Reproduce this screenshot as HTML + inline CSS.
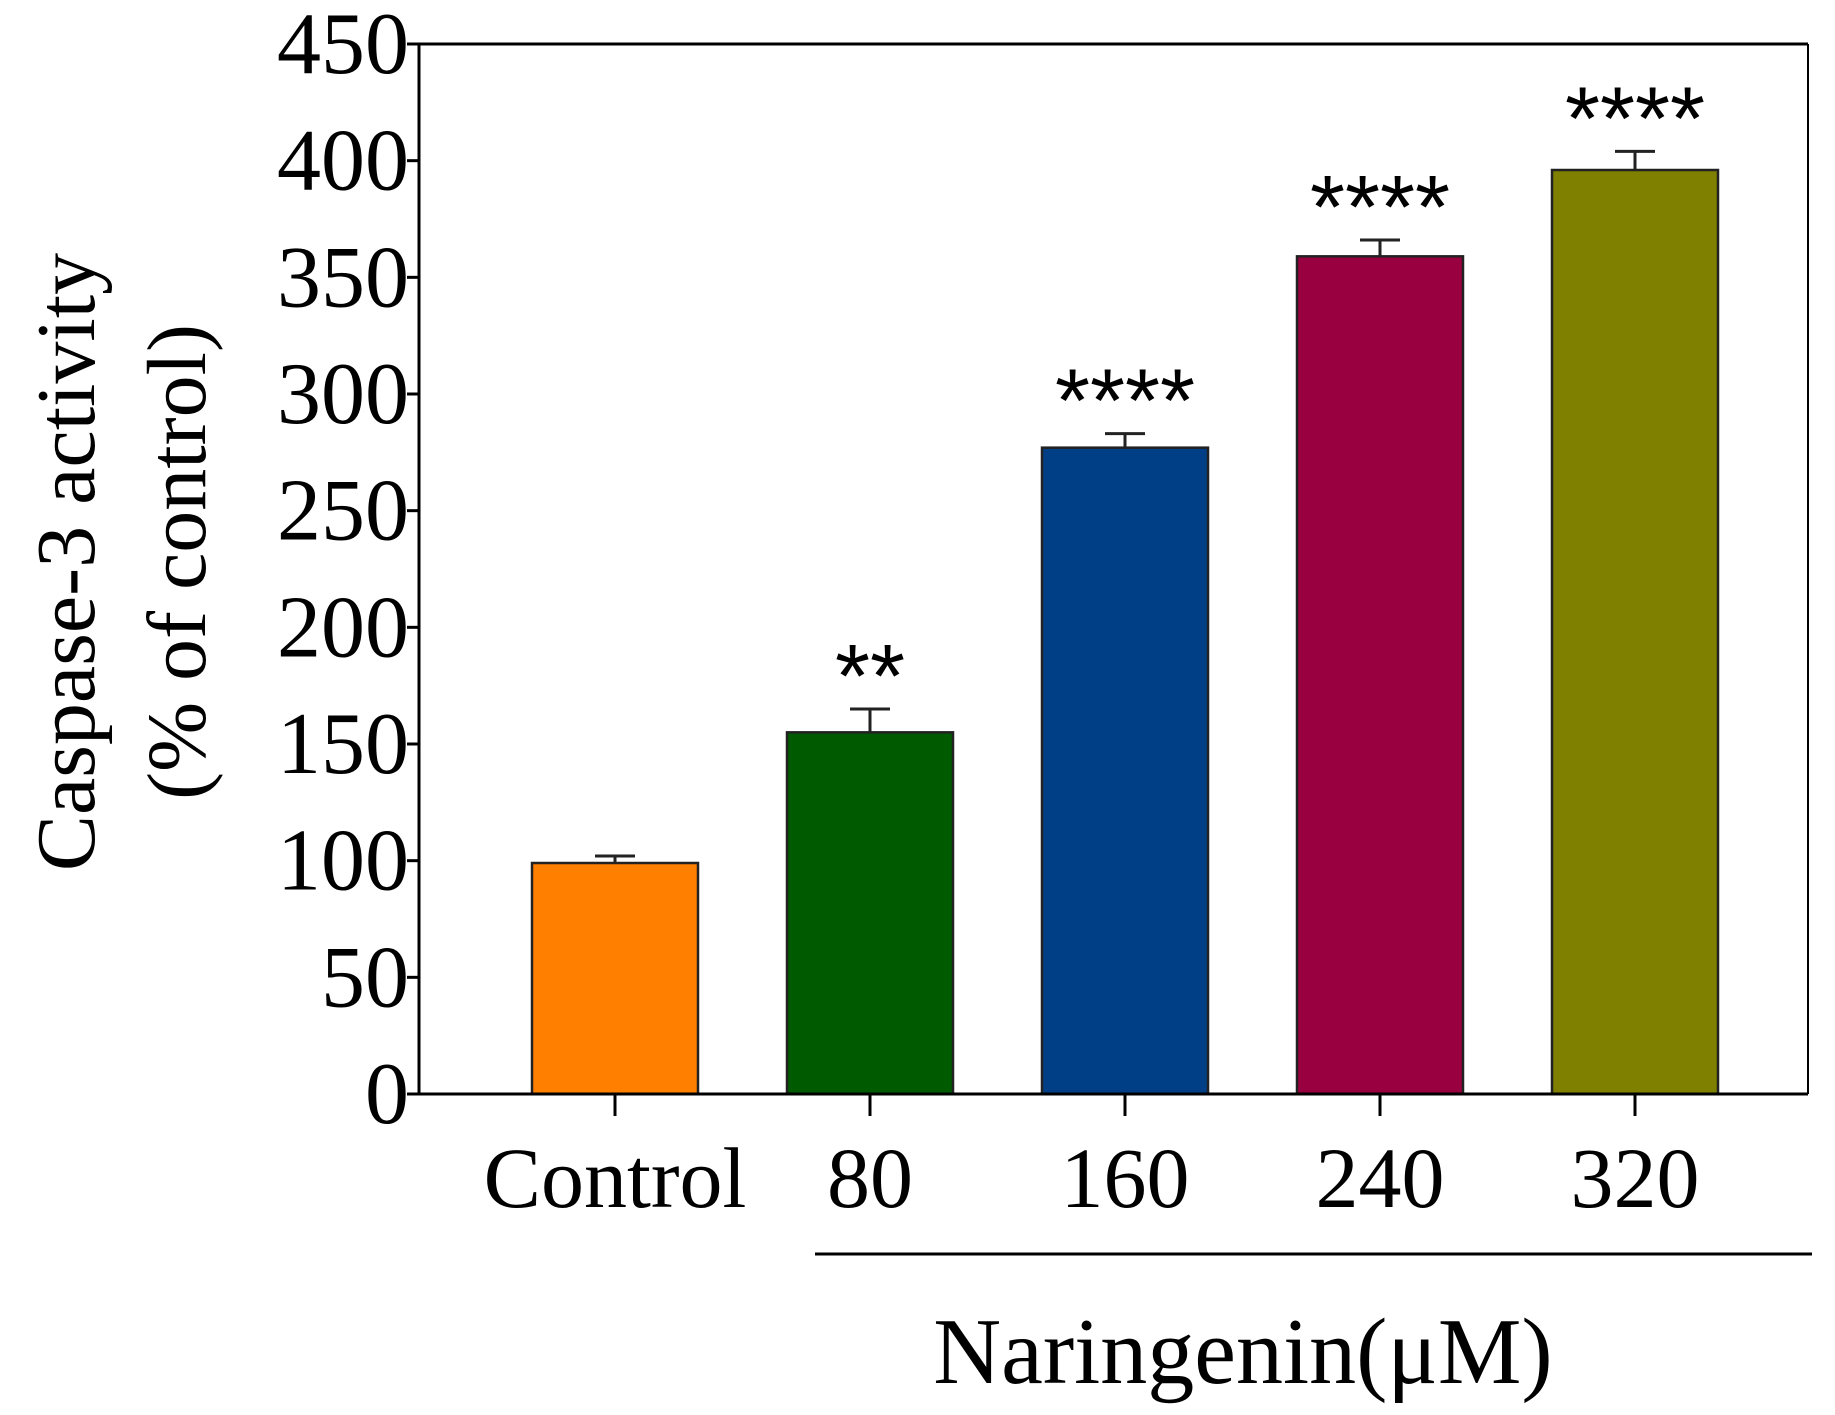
<!DOCTYPE html>
<html><head><meta charset="utf-8"><style>
body{margin:0;background:#fff}
svg{display:block;font-family:"Liberation Serif",serif}
</style></head><body>
<svg id="chart" width="1835" height="1415" viewBox="0 0 1835 1415" xmlns="http://www.w3.org/2000/svg">
<g id="plot"></g>
</svg>
<script>
const categories=["Control","80","160","240","320"];
const values=[99,155,277,359,396];
const errors=[3,10,6,7,8];
const stars=["","**","****","****","****"];
const colors=["#ff8000","#005a00","#003f85","#990040","#808000"];
const yTicks=[0,50,100,150,200,250,300,350,400,450];

const NS="http://www.w3.org/2000/svg";
const g=document.getElementById('plot');
const x0=419,x1=1808,yTop=44,yBase=1094,yMax=450;
const y=v=>yBase-(v/yMax)*(yBase-yTop);
const step=255,firstC=615,bw=166;
const xc=i=>firstC+i*step;
function el(tag,attrs,text){const e=document.createElementNS(NS,tag);for(const k in attrs)e.setAttribute(k,attrs[k]);if(text!==undefined)e.textContent=text;g.appendChild(e);return e;}

yTicks.forEach(t=>{
  const l=el('line',{x1:x0-12,x2:x0,y1:y(t),y2:y(t),stroke:'#000','stroke-width':3});
  
  
  const tx=el('text',{x:x0-10,y:y(t)+29,'text-anchor':'end','font-size':88},String(t));
  
  
});
categories.forEach((c,i)=>{
  const v=values[i],cx=xc(i);
  const r=el('rect',{x:cx-bw/2,y:y(v),width:bw,height:yBase-y(v),fill:colors[i],stroke:'#222','stroke-width':2.5});
  
  
  const top=y(v+errors[i]);
  const e1=el('line',{x1:cx,x2:cx,y1:y(v),y2:top,stroke:'#222','stroke-width':3});
  
  
  const e2=el('line',{x1:cx-20,x2:cx+20,y1:top,y2:top,stroke:'#222','stroke-width':3});
  
  
  if(stars[i]){
    const s=el('text',{x:cx,y:top-2,'text-anchor':'middle','font-size':90,'font-family':'Liberation Sans, sans-serif'},stars[i]);
    
    
  }
  const tk=el('line',{x1:cx,x2:cx,y1:yBase,y2:yBase+22,stroke:'#000','stroke-width':3});
  
  
  const lb=el('text',{x:cx,y:1207,'text-anchor':'middle','font-size':86},c);
  
  
});
const ax=el('polyline',{points:`${x1},${yTop} ${x0},${yTop} ${x0},${yBase} ${x1},${yBase}`,fill:'none',stroke:'#000','stroke-width':3});


const rl=el('line',{x1:x1,x2:x1,y1:yTop,y2:yBase,stroke:'#000','stroke-width':2});


const gl=el('line',{x1:815,x2:1812,y1:1254,y2:1254,stroke:'#000','stroke-width':3});


const xt=el('text',{x:1243,y:1383,'text-anchor':'middle','font-size':94},'Naringenin(μM)');


const yt1=el('text',{x:0,y:0,'text-anchor':'middle','font-size':84,transform:'translate(94,562) rotate(-90)'},'Caspase-3 activity');


const yt2=el('text',{x:0,y:0,'text-anchor':'middle','font-size':84,transform:'translate(205,562) rotate(-90)'},'(% of control)');


</script>
</body></html>
